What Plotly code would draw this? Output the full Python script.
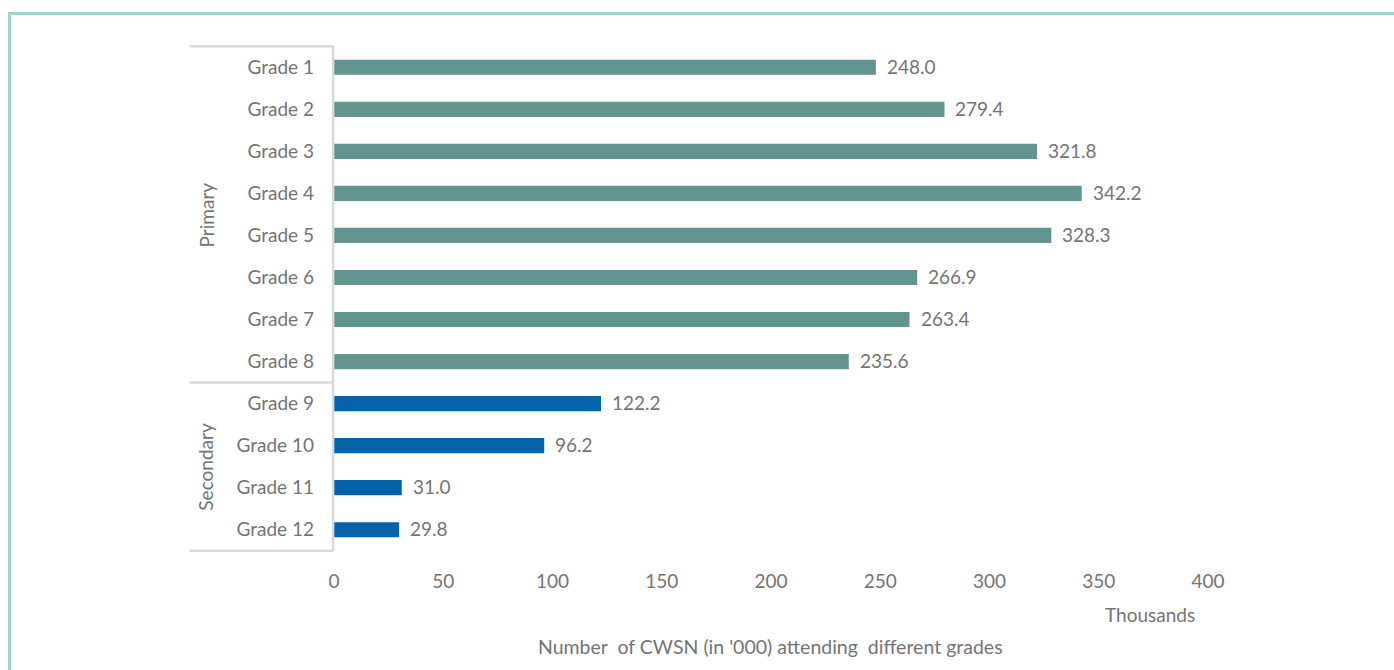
import plotly.graph_objects as go

# Children with special needs (CWSN) attending each grade, in thousands
primary_grades = ["Grade 1", "Grade 2", "Grade 3", "Grade 4",
                  "Grade 5", "Grade 6", "Grade 7", "Grade 8"]
primary_values = [248.0, 279.4, 321.8, 342.2, 328.3, 266.9, 263.4, 235.6]

secondary_grades = ["Grade 9", "Grade 10", "Grade 11", "Grade 12"]
secondary_values = [122.2, 96.2, 31.0, 29.8]

x_ticks = [0, 50, 100, 150, 200, 250, 300, 350, 400]

TEAL = "#62958f"
BLUE = "#0563a9"
TEXT = "#747474"
BRACKET = "#d9d9d9"
FONT = "Lato, Carlito, Calibri, sans-serif"
FS = 19

all_grades = primary_grades + secondary_grades

fig = go.Figure()
fig.add_trace(go.Bar(
    y=primary_grades, x=primary_values, orientation="h",
    marker=dict(color=TEAL, line=dict(width=0)),
    name="Primary", hoverinfo="x+y",
))
fig.add_trace(go.Bar(
    y=secondary_grades, x=secondary_values, orientation="h",
    marker=dict(color=BLUE, line=dict(width=0)),
    name="Secondary", hoverinfo="x+y",
))

# value labels just right of each bar
annotations = []
for grade, val in zip(all_grades, primary_values + secondary_values):
    annotations.append(dict(
        text=f"{val:.1f}", x=val, y=grade, xref="x", yref="y",
        xanchor="left", yanchor="middle", xshift=9, yshift=1, showarrow=False,
        font=dict(size=FS, color=TEXT, family=FONT)))

# group bracket on the category axis
shapes = []
bx0 = -0.165
for yv in [-0.5, len(primary_grades) - 0.5, len(all_grades) - 0.5]:
    shapes.append(dict(type="line", xref="paper", yref="y", x0=bx0, x1=-0.001,
                       y0=yv, y1=yv, line=dict(color=BRACKET, width=2.5)))
shapes.append(dict(type="line", xref="paper", yref="y", x0=-0.001, x1=-0.001,
                   y0=-0.5, y1=len(all_grades) - 0.5,
                   line=dict(color=BRACKET, width=2.5)))
# outer frame
shapes.append(dict(type="rect", xref="paper", yref="paper",
                   x0=-0.3713, x1=1.25, y0=-0.5, y1=1.0621,
                   line=dict(color="#9fd4ce", width=3)))

annotations += [
    dict(text="Primary", xref="paper", yref="y", x=-0.1465,
         y=(len(primary_grades) - 1) / 2, textangle=-90, showarrow=False,
         xanchor="center", yanchor="middle",
         font=dict(size=FS, color=TEXT, family=FONT)),
    dict(text="Secondary", xref="paper", yref="y", x=-0.1465,
         y=len(primary_grades) + (len(secondary_grades) - 1) / 2,
         textangle=-90, showarrow=False, xanchor="center", yanchor="middle",
         font=dict(size=FS, color=TEXT, family=FONT)),
    dict(text="Thousands", xref="paper", yref="paper", x=0.9336, y=-0.124,
         xanchor="center", yanchor="middle", showarrow=False,
         font=dict(size=FS, color=TEXT, family=FONT)),
    dict(text="Number  of CWSN (in '000) attending  different grades",
         xref="paper", yref="paper", x=0.4989, y=-0.187, showarrow=False,
         xanchor="center", yanchor="middle",
         font=dict(size=FS + 0.5, color=TEXT, family=FONT)),
]

fig.update_layout(
    width=1394, height=670,
    margin=dict(l=334, r=186, t=45, b=118),
    paper_bgcolor="white", plot_bgcolor="white",
    showlegend=False, bargap=0.64,
    font=dict(family=FONT, color=TEXT, size=FS),
    shapes=shapes, annotations=annotations,
    xaxis=dict(range=[0, 400], tickvals=x_ticks, showgrid=False,
               zeroline=False, showline=False, ticks="",
               ticklabelstandoff=16,
               tickfont=dict(size=FS, color=TEXT, family=FONT)),
    yaxis=dict(categoryorder="array", categoryarray=all_grades,
               autorange="reversed", showgrid=False, zeroline=False,
               showline=False, ticks="", ticklabelstandoff=19,
               tickfont=dict(size=FS, color=TEXT, family=FONT)),
)

fig.write_html("out.html")
